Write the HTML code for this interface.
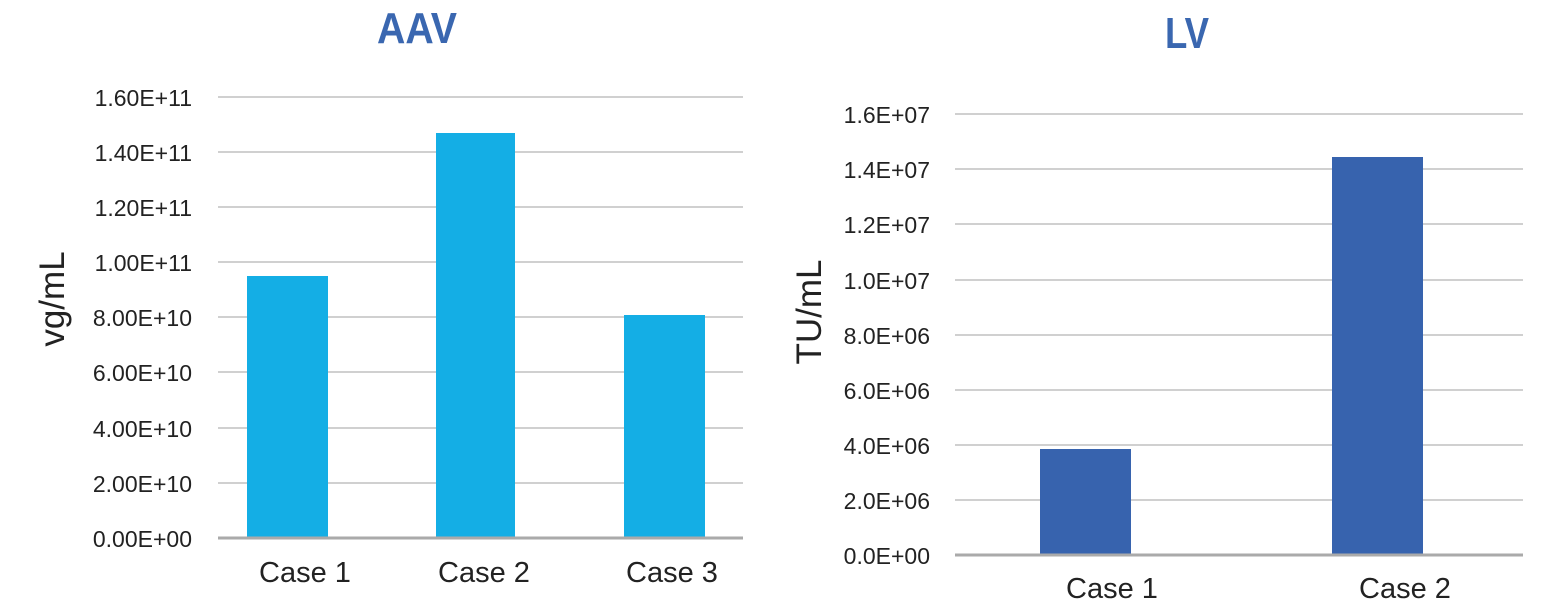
<!DOCTYPE html>
<html><head><style>body{margin:0;background:#fff}svg{display:block}</style></head><body>
<svg width="1565" height="608" xmlns="http://www.w3.org/2000/svg" font-family="Liberation Sans, Arial, sans-serif">
<text x="417" y="43" text-anchor="middle" font-size="44" font-weight="bold" fill="#3A67B0" textLength="80" lengthAdjust="spacingAndGlyphs">AAV</text>
<text x="1187" y="48" text-anchor="middle" font-size="44" font-weight="bold" fill="#3A67B0" textLength="44" lengthAdjust="spacingAndGlyphs">LV</text>
<g stroke="#b4b4b4" stroke-width="1.3">
<line x1="218" x2="743" y1="97" y2="97"/><line x1="218" x2="743" y1="152" y2="152"/><line x1="218" x2="743" y1="207" y2="207"/><line x1="218" x2="743" y1="262" y2="262"/><line x1="218" x2="743" y1="317" y2="317"/><line x1="218" x2="743" y1="372" y2="372"/><line x1="218" x2="743" y1="428" y2="428"/><line x1="218" x2="743" y1="483" y2="483"/>
<line x1="955" x2="1523" y1="114" y2="114"/><line x1="955" x2="1523" y1="169" y2="169"/><line x1="955" x2="1523" y1="224" y2="224"/><line x1="955" x2="1523" y1="280" y2="280"/><line x1="955" x2="1523" y1="335" y2="335"/><line x1="955" x2="1523" y1="390" y2="390"/><line x1="955" x2="1523" y1="445" y2="445"/><line x1="955" x2="1523" y1="500" y2="500"/>
</g>
<rect x="247" y="276" width="81" height="262" fill="#14AEE5"/>
<rect x="436" y="133" width="79" height="405" fill="#14AEE5"/>
<rect x="624" y="315" width="81" height="223" fill="#14AEE5"/>
<rect x="1040" y="449" width="91" height="106" fill="#3763AE"/>
<rect x="1332" y="157" width="91" height="398" fill="#3763AE"/>
<line x1="218" x2="743" y1="538" y2="538" stroke="#aaa" stroke-width="3"/>
<line x1="955" x2="1523" y1="555" y2="555" stroke="#aaa" stroke-width="3"/>
<g font-size="23" fill="#222" text-anchor="end">
<text x="192" y="106">1.60E+11</text><text x="192" y="161">1.40E+11</text><text x="192" y="216">1.20E+11</text><text x="192" y="271">1.00E+11</text><text x="192" y="326">8.00E+10</text><text x="192" y="381">6.00E+10</text><text x="192" y="437">4.00E+10</text><text x="192" y="492">2.00E+10</text><text x="192" y="547">0.00E+00</text>
<text x="930" y="123">1.6E+07</text><text x="930" y="178">1.4E+07</text><text x="930" y="233">1.2E+07</text><text x="930" y="289">1.0E+07</text><text x="930" y="344">8.0E+06</text><text x="930" y="399">6.0E+06</text><text x="930" y="454">4.0E+06</text><text x="930" y="509">2.0E+06</text><text x="930" y="564">0.0E+00</text>
</g>
<g font-size="29" fill="#222" text-anchor="middle">
<text x="305" y="582">Case 1</text><text x="484" y="582">Case 2</text><text x="672" y="582">Case 3</text>
<text x="1112" y="598">Case 1</text><text x="1405" y="598">Case 2</text>
</g>
<text transform="translate(64,299) rotate(-90)" text-anchor="middle" font-size="35" fill="#222">vg/mL</text>
<text transform="translate(821,312) rotate(-90)" text-anchor="middle" font-size="35" fill="#222">TU/mL</text>
</svg>
</body></html>
